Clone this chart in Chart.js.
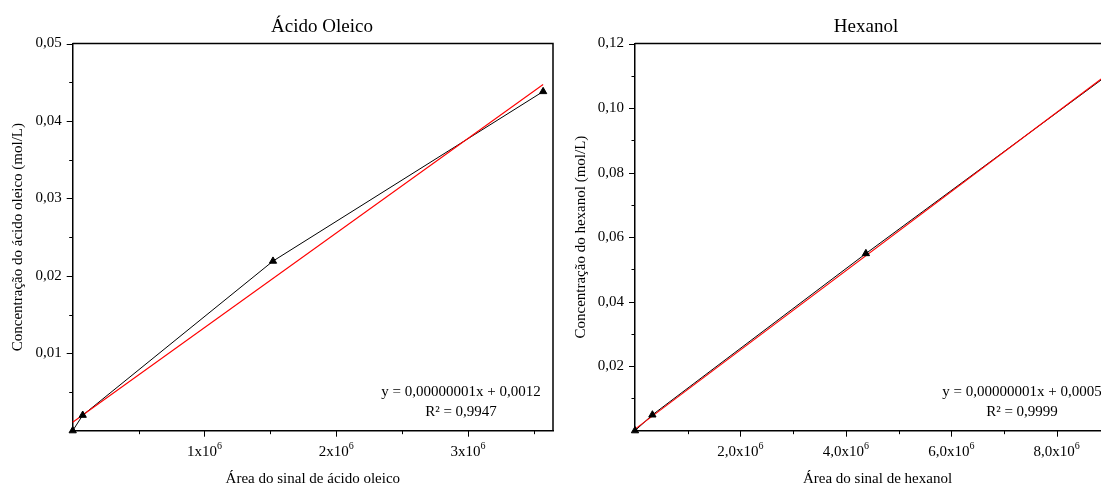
<!DOCTYPE html>
<html>
<head>
<meta charset="utf-8">
<script src="https://cdn.jsdelivr.net/npm/chart.js@4.4.1/dist/chart.umd.min.js"></script>
<style>
  html, body { margin: 0; padding: 0; background: #fff; overflow: hidden; }
  #wrap { position: relative; width: 1101px; height: 486px; overflow: hidden; }
  #boxA { position: absolute; left: 0; top: 0; width: 560px; height: 486px; }
  #boxB { position: absolute; left: 560px; top: 0; width: 580px; height: 486px; }
</style>
</head>
<body>
<div id="wrap">
  <div id="boxA"><canvas id="chartOleico"></canvas></div>
  <div id="boxB"><canvas id="chartHexanol"></canvas></div>
</div>
<script>
// Dados: ácido oleico
var areaOleico = [0, 76000, 1520000, 3570000];
var concOleico = [0, 0.0020, 0.0219, 0.0438];
var fitOleicoX = [0, 3570000];
var fitOleicoY = [0.0011, 0.0447];
var oleicoYTicks = [0, 0.01, 0.02, 0.03, 0.04, 0.05];
var oleicoYLabels = ['', '0,01', '0,02', '0,03', '0,04', '0,05'];
var oleicoXTicks = [1000000, 2000000, 3000000];
var oleicoXLabels = ['1x10', '2x10', '3x10'];

// Dados: hexanol
var areaHexanol = [0, 330000, 4380000, 8950000];
var concHexanol = [0, 0.0049, 0.0549, 0.1100];
var fitHexanolX = [0, 8950000];
var fitHexanolY = [0.0005, 0.1103];
var hexanolYTicks = [0, 0.02, 0.04, 0.06, 0.08, 0.10, 0.12];
var hexanolYLabels = ['', '0,02', '0,04', '0,06', '0,08', '0,10', '0,12'];
var hexanolXTicks = [2000000, 4000000, 6000000, 8000000];
var hexanolXLabels = ['2,0x10', '4,0x10', '6,0x10', '8,0x10'];

var FONT = '"Liberation Serif", "Times New Roman", serif';

function pairs(xs, ys) {
    return xs.map(function (x, i) { return { x: x, y: ys[i] }; });
}

// Desenha moldura, ticks menores, rótulos com expoente e textos
var originFrame = {
    id: 'originFrame',
    afterDraw: function (chart, args, o) {
        var ctx = chart.ctx, a = chart.chartArea;
        var xs = chart.scales.x, ys = chart.scales.y;
        ctx.save();
        ctx.strokeStyle = '#000';
        ctx.fillStyle = '#000';
        ctx.lineWidth = 1.5;
        ctx.beginPath();
        ctx.moveTo(a.left, a.top);
        ctx.lineTo(a.right, a.top);
        ctx.lineTo(a.right, a.bottom);
        ctx.stroke();

        ctx.lineWidth = 1;
        ctx.beginPath();
        var n = Math.round(xs.max / o.xMinor);
        for (var i = 1; i <= n; i++) {
            var px = Math.round(xs.getPixelForValue(i * o.xMinor)) + 0.5;
            var len = (i % o.xEvery === 0) ? 6 : 3.5;
            ctx.moveTo(px, a.bottom);
            ctx.lineTo(px, a.bottom + len);
        }
        var m = Math.round(ys.max / o.yMinor);
        for (var j = 1; j <= m; j++) {
            var py = Math.round(ys.getPixelForValue(j * o.yMinor)) + 0.5;
            var ln = (j % o.yEvery === 0) ? 6 : 3.5;
            ctx.moveTo(a.left, py);
            ctx.lineTo(a.left - ln, py);
        }
        ctx.stroke();

        // rótulos do eixo x com expoente
        ctx.textAlign = 'left';
        ctx.textBaseline = 'alphabetic';
        o.xTicks.forEach(function (v, k) {
            ctx.font = '15px ' + FONT;
            var wb = ctx.measureText(o.xLabels[k]).width;
            ctx.font = '10px ' + FONT;
            var ws = ctx.measureText(o.xExp).width;
            var x0 = xs.getPixelForValue(v) - (wb + ws) / 2;
            ctx.font = '15px ' + FONT;
            ctx.fillText(o.xLabels[k], x0, a.bottom + 25);
            ctx.font = '10px ' + FONT;
            ctx.fillText(o.xExp, x0 + wb, a.bottom + 18);
        });

        // títulos
        ctx.textAlign = 'center';
        ctx.font = '19px ' + FONT;
        ctx.fillText(o.title, o.titleX, 32);
        ctx.font = '15px ' + FONT;
        ctx.fillText(o.xTitle, (a.left + a.right) / 2, a.bottom + 52);

        ctx.save();
        ctx.translate(o.yTitleX, (a.top + a.bottom) / 2);
        ctx.rotate(-Math.PI / 2);
        ctx.textBaseline = 'middle';
        ctx.fillText(o.yTitle, 0, 0);
        ctx.restore();

        // equação do ajuste
        ctx.textBaseline = 'middle';
        ctx.fillText(o.eq[0], o.eqX, 392);
        ctx.fillText(o.eq[1], o.eqX, 412);
        ctx.restore();
    }
};

function makeChart(id, d) {
    var ctx = document.getElementById(id).getContext('2d');
    var config = {
        type: 'scatter',
        data: {
            datasets: [{
                data: pairs(d.x, d.y),
                showLine: false,
                pointStyle: 'triangle',
                pointRadius: 4.2,
                pointBackgroundColor: '#000',
                pointBorderColor: '#000',
                pointBorderWidth: 1,
                clip: false
            }, {
                data: pairs(d.fitX, d.fitY),
                showLine: true,
                borderColor: '#ff0000',
                borderWidth: 1.1,
                pointRadius: 0,
                clip: false
            }, {
                data: pairs(d.x, d.y),
                showLine: true,
                borderColor: '#000',
                borderWidth: 1,
                pointRadius: 0,
                clip: false
            }]
        },
        options: {
            responsive: true,
            maintainAspectRatio: false,
            animation: false,
            layout: { padding: { left: 0, right: d.padRight, top: 43.5, bottom: 0 } },
            plugins: {
                legend: { display: false },
                tooltip: { enabled: false },
                originFrame: d.frame
            },
            scales: {
                x: {
                    type: 'linear',
                    min: 0,
                    max: d.xMax,
                    grid: { display: false, drawTicks: false },
                    border: { display: true, color: '#000', width: 1.5 },
                    ticks: { display: false },
                    afterFit: function (s) { s.height = 55.3; }
                },
                y: {
                    type: 'linear',
                    min: 0,
                    max: d.yMax,
                    grid: { display: false, drawTicks: false },
                    border: { display: true, color: '#000', width: 1.5 },
                    afterBuildTicks: function (s) {
                        s.ticks = d.yTicks.map(function (v) { return { value: v }; });
                    },
                    ticks: {
                        padding: 11,
                        color: '#000',
                        font: { family: FONT, size: 15 },
                        callback: function (v, i) { return d.yLabels[i]; }
                    },
                    afterFit: function (s) { s.width = d.yWidth; }
                }
            }
        },
        plugins: [originFrame]
    };
    return new Chart(ctx, config);
}

makeChart('chartOleico', {
    x: areaOleico, y: concOleico, fitX: fitOleicoX, fitY: fitOleicoY,
    xMax: 3645000, yMax: 0.05, yTicks: oleicoYTicks, yLabels: oleicoYLabels,
    yWidth: 72.7, padRight: 7,
    frame: {
        xMinor: 500000, xEvery: 2, yMinor: 0.005, yEvery: 2,
        xTicks: oleicoXTicks, xLabels: oleicoXLabels, xExp: '6',
        title: 'Ácido Oleico', titleX: 322,
        xTitle: 'Área do sinal de ácido oleico',
        yTitle: 'Concentração do ácido oleico (mol/L)', yTitleX: 18,
        eq: ['y = 0,00000001x + 0,0012', 'R² = 0,9947'], eqX: 461
    }
});

makeChart('chartHexanol', {
    x: areaHexanol, y: concHexanol, fitX: fitHexanolX, fitY: fitHexanolY,
    xMax: 9200000, yMax: 0.12, yTicks: hexanolYTicks, yLabels: hexanolYLabels,
    yWidth: 75, padRight: 20,
    frame: {
        xMinor: 1000000, xEvery: 2, yMinor: 0.01, yEvery: 2,
        xTicks: hexanolXTicks, xLabels: hexanolXLabels, xExp: '6',
        title: 'Hexanol', titleX: 306,
        xTitle: 'Área do sinal de hexanol',
        yTitle: 'Concentração do hexanol (mol/L)', yTitleX: 21,
        eq: ['y = 0,00000001x + 0,0005', 'R² = 0,9999'], eqX: 462
    }
});
</script>
</body>
</html>
